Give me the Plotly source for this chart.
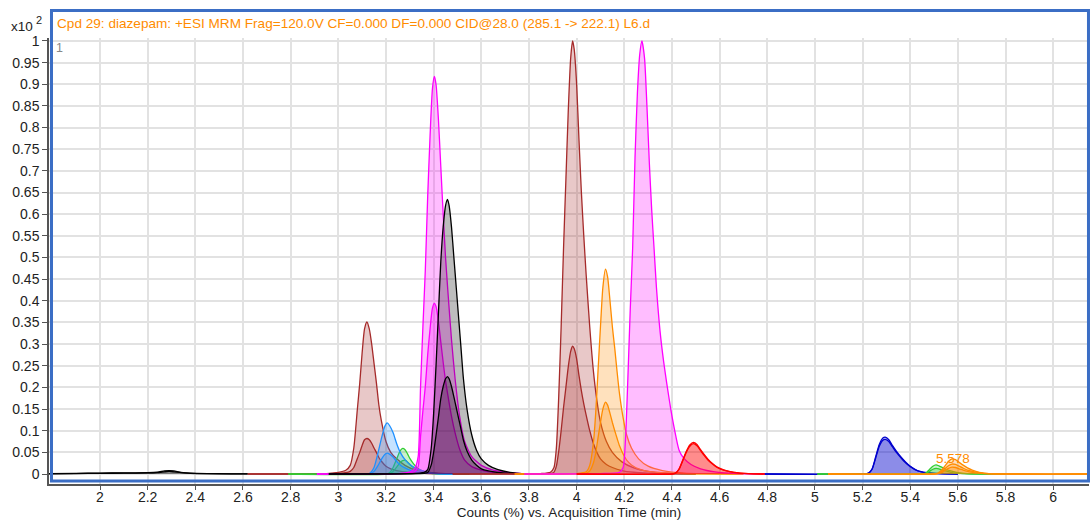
import plotly.graph_objects as go

# ---------------- data (counts in x10^2 %) ----------------
title_text = "Cpd 29: diazepam: +ESI MRM Frag=120.0V CF=0.000 DF=0.000 CID@28.0 (285.1 -> 222.1) L6.d"
x_ticks = [2.0, 2.2, 2.4, 2.6, 2.8, 3.0, 3.2, 3.4, 3.6, 3.8, 4.0, 4.2, 4.4, 4.6, 4.8, 5.0, 5.2, 5.4, 5.6, 5.8, 6.0]
x_tick_labels = ["2", "2.2", "2.4", "2.6", "2.8", "3", "3.2", "3.4", "3.6", "3.8", "4", "4.2", "4.4", "4.6", "4.8", "5", "5.2", "5.4", "5.6", "5.8", "6"]
y_ticks = [0, 0.05, 0.1, 0.15, 0.2, 0.25, 0.3, 0.35, 0.4, 0.45, 0.5, 0.55, 0.6, 0.65, 0.7, 0.75, 0.8, 0.85, 0.9, 0.95, 1.0]
y_tick_labels = ["0", "0.05", "0.1", "0.15", "0.2", "0.25", "0.3", "0.35", "0.4", "0.45", "0.5", "0.55", "0.6", "0.65", "0.7", "0.75", "0.8", "0.85", "0.9", "0.95", "1"]

black1_t = [1.786, 1.90, 2.00, 2.10, 2.20, 2.24, 2.27, 2.29, 2.31, 2.34, 2.38, 2.45, 2.55, 2.62]
black1_a = [0.001, 0.0015, 0.002, 0.0025, 0.003, 0.004, 0.007, 0.008, 0.007, 0.004, 0.002, 0.001, 0.0005, 0.0005]
black1_b = [0.0005, 0.001, 0.0015, 0.002, 0.0025, 0.003, 0.005, 0.006, 0.005, 0.003, 0.0015, 0.0007, 0.0003, 0.0003]

brown1_t = [2.62, 2.95, 3.00, 3.03, 3.05, 3.065, 3.08, 3.09, 3.10, 3.11, 3.12, 3.13, 3.14, 3.15, 3.16, 3.17, 3.18, 3.20, 3.22, 3.245, 3.28, 3.32, 3.38, 3.45, 3.50]
brown1_a = [0, 0.001, 0.004, 0.008, 0.02, 0.06, 0.15, 0.21, 0.28, 0.335, 0.351, 0.335, 0.30, 0.255, 0.21, 0.16, 0.125, 0.075, 0.05, 0.035, 0.02, 0.01, 0.004, 0.001, 0]
brown1_b = [0, 0.0005, 0.002, 0.003, 0.006, 0.015, 0.036, 0.05, 0.066, 0.079, 0.082, 0.079, 0.071, 0.06, 0.05, 0.038, 0.03, 0.018, 0.012, 0.008, 0.005, 0.0025, 0.001, 0.0003, 0]

green1_t = [2.79, 3.20, 3.215, 3.23, 3.245, 3.26, 3.27, 3.28, 3.29, 3.30, 3.315, 3.33, 3.35, 3.38, 3.42, 3.55]
green1_a = [0, 0, 0.003, 0.015, 0.035, 0.054, 0.059, 0.056, 0.047, 0.036, 0.024, 0.015, 0.008, 0.003, 0.001, 0]
green1_b = [0, 0, 0.001, 0.006, 0.016, 0.027, 0.031, 0.032, 0.028, 0.022, 0.015, 0.01, 0.005, 0.002, 0.0005, 0]

blue1_t = [2.96, 3.12, 3.135, 3.15, 3.165, 3.18, 3.195, 3.205, 3.215, 3.23, 3.245, 3.26, 3.28, 3.30, 3.33, 3.37, 3.42, 3.50]
blue1_a = [0, 0, 0.003, 0.015, 0.045, 0.08, 0.11, 0.118, 0.112, 0.095, 0.07, 0.05, 0.033, 0.022, 0.012, 0.005, 0.001, 0]
blue1_b = [0, 0, 0.001, 0.006, 0.018, 0.033, 0.045, 0.048, 0.046, 0.039, 0.029, 0.021, 0.014, 0.009, 0.005, 0.002, 0.0005, 0]

magenta1_t = [2.91, 3.25, 3.30, 3.32, 3.335, 3.345, 3.355, 3.365, 3.375, 3.385, 3.395, 3.403, 3.41, 3.42, 3.43, 3.44, 3.45, 3.46, 3.475, 3.49, 3.51, 3.53, 3.56, 3.60, 3.65, 3.72, 3.80]
magenta1_a = [0, 0.001, 0.005, 0.012, 0.04, 0.2, 0.34, 0.47, 0.64, 0.78, 0.89, 0.918, 0.90, 0.82, 0.71, 0.60, 0.50, 0.42, 0.31, 0.22, 0.13, 0.075, 0.04, 0.02, 0.009, 0.003, 0]
magenta1_b = [0, 0.0005, 0.002, 0.005, 0.017, 0.086, 0.146, 0.202, 0.275, 0.335, 0.383, 0.394, 0.387, 0.353, 0.305, 0.258, 0.215, 0.181, 0.133, 0.095, 0.056, 0.032, 0.017, 0.009, 0.004, 0.001, 0]

black2_t = [2.96, 3.30, 3.36, 3.375, 3.39, 3.40, 3.41, 3.42, 3.43, 3.44, 3.45, 3.458, 3.465, 3.475, 3.485, 3.495, 3.505, 3.515, 3.525, 3.54, 3.56, 3.58, 3.60, 3.63, 3.67, 3.72, 3.80]
black2_a = [0, 0.001, 0.004, 0.01, 0.06, 0.14, 0.25, 0.37, 0.49, 0.57, 0.62, 0.634, 0.62, 0.57, 0.50, 0.43, 0.36, 0.29, 0.22, 0.15, 0.09, 0.055, 0.035, 0.02, 0.01, 0.004, 0]
black2_b = [0, 0.0004, 0.0014, 0.0035, 0.021, 0.05, 0.089, 0.131, 0.174, 0.202, 0.22, 0.225, 0.22, 0.202, 0.178, 0.153, 0.128, 0.103, 0.078, 0.053, 0.032, 0.02, 0.012, 0.007, 0.0035, 0.0014, 0]

brown2_t = [3.48, 3.85, 3.89, 3.905, 3.915, 3.925, 3.935, 3.945, 3.955, 3.965, 3.975, 3.983, 3.99, 4.00, 4.01, 4.02, 4.03, 4.04, 4.055, 4.07, 4.085, 4.10, 4.125, 4.15, 4.19, 4.24, 4.30, 4.38, 4.50]
brown2_a = [0, 0.001, 0.004, 0.015, 0.06, 0.18, 0.34, 0.52, 0.68, 0.84, 0.96, 1.0, 0.98, 0.90, 0.77, 0.65, 0.55, 0.46, 0.34, 0.24, 0.17, 0.12, 0.075, 0.05, 0.028, 0.014, 0.006, 0.002, 0]
brown2_b = [0, 0.0003, 0.0012, 0.0044, 0.018, 0.053, 0.1, 0.153, 0.2, 0.248, 0.283, 0.295, 0.289, 0.266, 0.227, 0.192, 0.162, 0.136, 0.1, 0.071, 0.05, 0.035, 0.022, 0.015, 0.008, 0.004, 0.002, 0.0006, 0]

orange1_t = [3.74, 4.00, 4.04, 4.055, 4.07, 4.08, 4.09, 4.10, 4.11, 4.121, 4.13, 4.14, 4.15, 4.16, 4.17, 4.18, 4.195, 4.21, 4.23, 4.26, 4.30, 4.36, 4.45, 4.70]
orange1_a = [0, 0.001, 0.005, 0.02, 0.07, 0.14, 0.24, 0.34, 0.43, 0.473, 0.455, 0.40, 0.34, 0.29, 0.235, 0.185, 0.13, 0.09, 0.06, 0.035, 0.018, 0.008, 0.002, 0]
orange1_b = [0, 0.0004, 0.002, 0.007, 0.025, 0.049, 0.084, 0.119, 0.15, 0.166, 0.159, 0.14, 0.119, 0.1, 0.082, 0.065, 0.046, 0.032, 0.021, 0.012, 0.006, 0.003, 0.0007, 0]

magenta2_t = [3.78, 4.10, 4.18, 4.195, 4.205, 4.215, 4.225, 4.235, 4.245, 4.255, 4.265, 4.274, 4.285, 4.295, 4.305, 4.315, 4.325, 4.335, 4.35, 4.365, 4.378, 4.395, 4.41, 4.43, 4.45, 4.48, 4.52, 4.58, 4.68, 4.79]
magenta2_a = [0, 0.001, 0.004, 0.015, 0.08, 0.22, 0.38, 0.52, 0.73, 0.88, 0.97, 1.0, 0.96, 0.85, 0.72, 0.61, 0.52, 0.43, 0.33, 0.26, 0.21, 0.15, 0.105, 0.055, 0.036, 0.022, 0.012, 0.005, 0.001, 0]

red_t = [4.00, 4.40, 4.415, 4.43, 4.445, 4.46, 4.475, 4.49, 4.505, 4.52, 4.535, 4.55, 4.57, 4.59, 4.62, 4.66, 4.72, 4.79]
red_a = [0, 0, 0.002, 0.012, 0.032, 0.052, 0.067, 0.073, 0.068, 0.056, 0.045, 0.035, 0.024, 0.016, 0.009, 0.004, 0.001, 0]
red_b = [0, 0, 0.002, 0.011, 0.03, 0.05, 0.064, 0.07, 0.065, 0.054, 0.043, 0.033, 0.023, 0.015, 0.0085, 0.004, 0.001, 0]

blue2_t = [4.79, 5.20, 5.225, 5.24, 5.255, 5.27, 5.285, 5.295, 5.31, 5.325, 5.34, 5.36, 5.38, 5.40, 5.43, 5.47, 5.52, 5.60]
blue2_a = [0, 0, 0.002, 0.012, 0.04, 0.068, 0.083, 0.085, 0.079, 0.066, 0.054, 0.04, 0.028, 0.018, 0.008, 0.003, 0.001, 0]
blue2_b = [0, 0, 0.002, 0.011, 0.037, 0.064, 0.078, 0.080, 0.075, 0.063, 0.051, 0.038, 0.026, 0.017, 0.0075, 0.003, 0.001, 0]

green2_t = [5.01, 5.45, 5.465, 5.48, 5.495, 5.508, 5.52, 5.535, 5.55, 5.57, 5.60, 5.64, 5.80]
green2_a = [0, 0, 0.002, 0.01, 0.018, 0.021, 0.019, 0.015, 0.011, 0.007, 0.003, 0.001, 0]
green2_b = [0, 0, 0.001, 0.006, 0.011, 0.013, 0.012, 0.009, 0.007, 0.004, 0.002, 0.0005, 0]

orange2_t = [5.055, 5.50, 5.515, 5.53, 5.545, 5.56, 5.575, 5.59, 5.605, 5.62, 5.64, 5.66, 5.69, 5.73, 6.15]
orange2_a = [0, 0, 0.002, 0.008, 0.018, 0.029, 0.035, 0.033, 0.027, 0.021, 0.014, 0.009, 0.004, 0.001, 0]
orange2_b = [0, 0, 0.001, 0.005, 0.012, 0.019, 0.023, 0.022, 0.018, 0.014, 0.009, 0.006, 0.003, 0.0007, 0]
orange2_c = [0, 0, 0.001, 0.003, 0.008, 0.013, 0.016, 0.015, 0.012, 0.0095, 0.006, 0.004, 0.002, 0.0005, 0]

peak_label_x = 5.578
peak_label_y = 0.036
peak_label = "5.578"

# ---------------- styling ----------------
BLACK = "#000000"
BROWN = "#A52A2A"
DBLUE = "#1E90FF"
GREEN = "#32CD32"
MAGENTA = "#FF00FF"
ORANGE = "#FF8C00"
RED = "#FF0000"
NAVY = "#0000CD"


def rgba(hex_color, a):
    h = hex_color.lstrip("#")
    r, g, b = int(h[0:2], 16), int(h[2:4], 16), int(h[4:6], 16)
    return f"rgba({r},{g},{b},{a})"


series = [
    (black1_t, black1_a, BLACK), (black1_t, black1_b, BLACK),
    (brown1_t, brown1_a, BROWN), (brown1_t, brown1_b, BROWN),
    (green1_t, green1_a, GREEN), (green1_t, green1_b, GREEN),
    (blue1_t, blue1_a, DBLUE), (blue1_t, blue1_b, DBLUE),
    (magenta1_t, magenta1_a, MAGENTA), (magenta1_t, magenta1_b, MAGENTA),
    (black2_t, black2_a, BLACK), (black2_t, black2_b, BLACK),
    (brown2_t, brown2_a, BROWN), (brown2_t, brown2_b, BROWN),
    (orange1_t, orange1_a, ORANGE), (orange1_t, orange1_b, ORANGE),
    (magenta2_t, magenta2_a, MAGENTA),
    (red_t, red_a, RED), (red_t, red_b, RED),
    (blue2_t, blue2_a, NAVY), (blue2_t, blue2_b, NAVY),
    (green2_t, green2_a, GREEN), (green2_t, green2_b, GREEN),
    (orange2_t, orange2_a, ORANGE), (orange2_t, orange2_b, ORANGE), (orange2_t, orange2_c, ORANGE),
]

fig = go.Figure()
for t, v, c in series:
    fig.add_trace(go.Scatter(
        x=t, y=v, mode="lines",
        line=dict(color=c, width=1.3, shape="spline", smoothing=0.6),
        fill="tozeroy", fillcolor=rgba(c, 0.26),
        hoverinfo="skip", showlegend=False,
    ))

FONT = "Liberation Sans, Arial, sans-serif"
GRID = "#e2e2e2"

fig.update_layout(
    width=1091, height=520,
    margin=dict(l=49, r=2, t=38, b=36),
    plot_bgcolor="white", paper_bgcolor="white",
    font=dict(family=FONT, size=14, color="#222222"),
    showlegend=False,
)
fig.update_xaxes(
    range=[1.786, 6.150], tickmode="array", tickvals=x_ticks, ticktext=x_tick_labels,
    showgrid=True, gridcolor=GRID, gridwidth=1.5, zeroline=False,
    showline=True, linecolor="#555555", linewidth=1.5,
    ticks="outside", ticklen=4, tickcolor="#555555", automargin=False,
    tickfont=dict(size=14), ticklabelstandoff=-5,
    title=dict(text="Counts (%) vs. Acquisition Time (min)", standoff=0, font=dict(size=13.5)),
)
fig.update_yaxes(
    range=[-0.0231, 1.0069], tickmode="array", tickvals=y_ticks, ticktext=y_tick_labels,
    showgrid=True, gridcolor=GRID, gridwidth=1.5, zeroline=False,
    showline=True, linecolor="#555555", linewidth=1.5,
    ticks="outside", ticklen=5, tickcolor="#555555", automargin=False,
    tickfont=dict(size=14),
)

fig.add_shape(type="rect", xref="paper", yref="paper",
              x0=0.0024, x1=0.9995, y0=0.0067, y1=1.0617,
              line=dict(color="#3B6EC5", width=3), layer="above")

fig.add_annotation(xref="paper", yref="paper", x=0.0058, y=1.0314, xanchor="left", yanchor="middle",
                   text=title_text, showarrow=False, font=dict(color=ORANGE, size=13.6, family=FONT))
fig.add_annotation(xref="paper", yref="paper", x=-0.0385, y=1.0247, xanchor="left", yanchor="middle",
                   text="x10", showarrow=False, font=dict(color="#222222", size=13.5, family=FONT))
fig.add_annotation(xref="paper", yref="paper", x=-0.0145, y=1.040, xanchor="left", yanchor="middle",
                   text="2", showarrow=False, font=dict(color="#222222", size=11, family=FONT))
fig.add_annotation(xref="paper", yref="paper", x=0.005, y=0.9776, xanchor="left", yanchor="middle",
                   text="1", showarrow=False, font=dict(color="#888888", size=12.5, family=FONT))
fig.add_annotation(x=peak_label_x, y=peak_label_y, xanchor="center", yanchor="middle",
                   text=peak_label, showarrow=False, font=dict(color=ORANGE, size=13.5, family=FONT))

fig.write_html("out.html")
